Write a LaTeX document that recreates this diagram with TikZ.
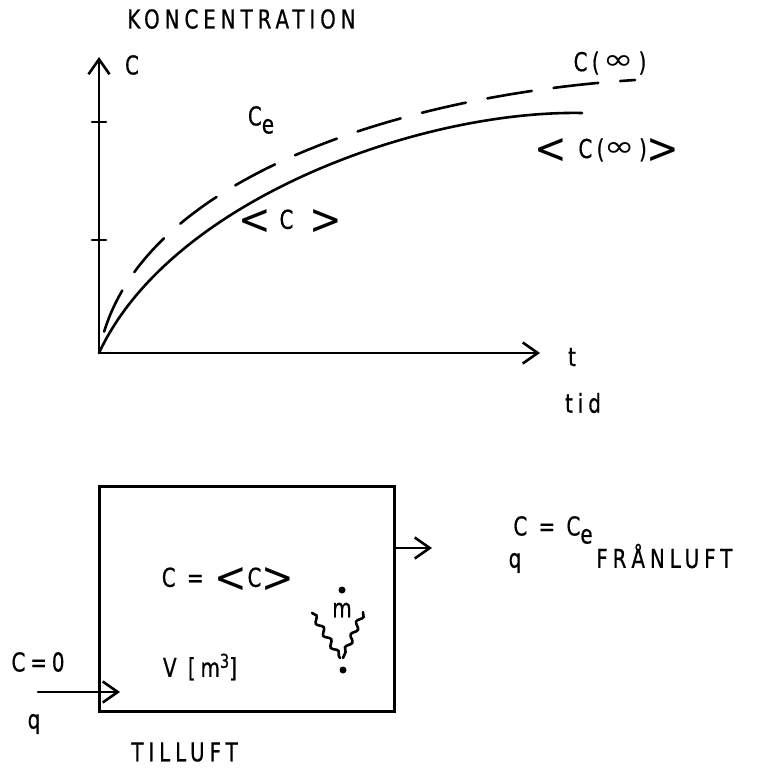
\documentclass[tikz,border=0pt]{standalone}
\usepackage{fontspec}
\setmainfont{DejaVu Sans Condensed}[FakeStretch=0.85, LetterSpace=19, FakeBold=0.6]
\newfontfamily\brfont{DejaVu Sans}
\usetikzlibrary{arrows.meta, decorations.pathmorphing}
\newcommand{\ltb}{\raisebox{-0.22em}{\scalebox{1.5}[1.65]{\brfont <}}}
\newcommand{\gtb}{\raisebox{-0.22em}{\scalebox{1.5}[1.65]{\brfont >}}}
\newcommand{\infy}{\raisebox{0.06em}{\scalebox{1.4}[1.1]{\brfont ∞}}}

\begin{document}
\begin{tikzpicture}[
  x=1pt, y=-1pt,
  line width=2.6pt, line cap=round,
  lbl/.style={font=\fontsize{26}{28}\selectfont, inner sep=0pt},
  axis/.style={-{Straight Barb[length=15pt,width=21pt]}},
  meas/.style={dash pattern=on 45pt off 22pt, dash phase=45pt},
  wave/.style={decorate, decoration={snake, amplitude=2.5pt, segment length=14pt}},
]
\useasboundingbox (0,0) rectangle (764,770);

% concentration over time
\coordinate (O) at (99,353);
\coordinate (ytop) at (99,57);
\coordinate (xend) at (540,353);
\draw[axis] (O) -- (ytop);
\draw[axis] (O) -- (xend);
\foreach \ty in {122,240} \draw (92,\ty) -- (106,\ty);

\draw[meas] (O) .. controls (130,180) and (400,95) .. (635,80);
\draw (O) .. controls (170,200) and (420,110) .. (582,113);

\node[lbl, anchor=west] (title) at (126,19) {KONCENTRATION};
\node[lbl] (yl) at (132,65) {C};
\node[lbl] (ce) at (261,120) {C\raisebox{-8pt}{e}};
\node[lbl] (cm) at (290,222) {\ltb\,\,C\ \,\gtb};
\node[lbl] (cinf) at (610,63) {C\,(\,\infy\,)};
\node[lbl] (cminf) at (607,151) {\ltb\ C\,(\infy\,)\gtb};
\node[lbl] (xl) at (572,357) {t};
\node[lbl] (tid) at (583,403) {tid};

% room
\node[draw, minimum width=295pt, minimum height=225pt, anchor=north west,
      inner sep=0pt] (room) at (98,485) {};
\node[lbl] (cin) at (38,662) {C=0};
\node[lbl] (qin) at (34,724) {q};
\coordinate (inl) at (38,692);
\coordinate (inr) at (120,692);
\draw[axis] (inl) -- (inr);
\node[lbl, anchor=west] (till) at (130,752) {TILLUFT};

\node[lbl] (croom) at (228,580) {C = \ltb C\gtb};
\node[lbl] (vol) at (200,667) {V [m\raisebox{0.35em}{\fontsize{19}{19}\selectfont 3}]};

\coordinate (outr) at (432,548);
\draw[axis] (room.east |- outr) -- (outr);
\node[lbl] (cout) at (553,530) {C = C\raisebox{-8pt}{e}};
\node[lbl] (qout) at (515,563) {q};
\node[lbl, anchor=west] (fran) at (595,556) {FRÅNLUFT};

% source
\fill (342,590) circle (3.5pt);
\node[lbl] (mdot) at (342,610) {m};
\draw[wave] (312,613) -- (340,658);
\draw[wave] (363,612) -- (343,658);
\fill (343,670) circle (3.5pt);
\end{tikzpicture}
\end{document}
